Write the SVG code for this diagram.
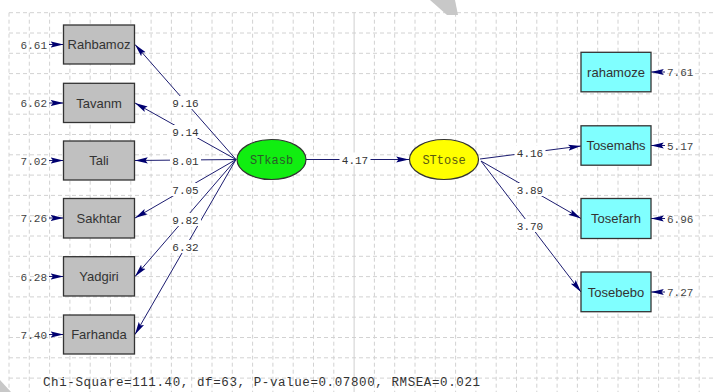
<svg xmlns="http://www.w3.org/2000/svg" width="713" height="392" viewBox="0 0 713 392">
<style>
.grid{fill:none;stroke:#d2d2d2;stroke-width:1;stroke-dasharray:4 3}
.obs rect{stroke:#333;stroke-width:1.3}
.gray rect{fill:#c0c0c0}
.cyan rect{fill:#80ffff}
.obs text{font-family:"Liberation Sans",Arial,sans-serif;font-size:13px;fill:#333;text-anchor:middle}
.lat text{font-family:"Liberation Mono","Courier New",monospace;font-size:12px;text-anchor:middle}
.val{font-family:"Liberation Mono","Courier New",monospace;font-size:11px;fill:#444}
.lbl{font-family:"Liberation Mono","Courier New",monospace;font-size:11px;fill:#333;text-anchor:middle}
.bg{fill:#fff}
.conn line{stroke:#1c1c70;stroke-width:1;marker-end:url(#ah)}
</style>
<defs>
<marker id="ah" markerUnits="userSpaceOnUse" markerWidth="14" markerHeight="8" refX="11" refY="3" orient="auto" viewBox="0 0 12 6">
<path d="M0,0.4 L11,3 L0,5.6 L2,3 z" fill="#000070"/>
</marker>
</defs>
<rect width="713" height="392" fill="#fff"/>
<g id="grid">
<path class="grid" d="M9,12.7V392M29.3,12.7V392M49.6,12.7V392M69.9,12.7V392M90.2,12.7V392M110.5,12.7V392M130.8,12.7V392M151.1,12.7V392M171.4,12.7V392M191.7,12.7V392M212,12.7V392M232.3,12.7V392M252.6,12.7V392M272.9,12.7V392M293.2,12.7V392M313.5,12.7V392M333.8,12.7V392M374.4,12.7V392M394.7,12.7V392M415,12.7V392M435.3,12.7V392M455.6,12.7V392M475.9,12.7V392M496.2,12.7V392M516.5,12.7V392M536.8,12.7V392M557.1,12.7V392M577.4,12.7V392M597.7,12.7V392M618,12.7V392M638.3,12.7V392M658.6,12.7V392M678.9,12.7V392M699.2,12.7V392"/>
<path class="grid" d="M9,12.7H713M9,33H713M9,53.3H713M9,73.6H713M9,93.9H713M9,114.2H713M9,134.5H713M9,154.8H713M9,175.1H713M9,195.4H713M9,215.7H713M9,236H713M9,256.3H713M9,276.6H713M9,296.9H713M9,317.2H713M9,337.5H713M9,357.8H713M9,378.1H713"/>
<line x1="354.1" y1="12.7" x2="354.1" y2="392" stroke="#cfcfcf" stroke-width="1"/>
</g>
<polygon points="430,0 455,0 458,15 447,15" fill="#c8c8c8"/>
<polygon points="0,380 11,392 0,392" fill="#c8c8c8"/>
<g id="connectors" class="conn">
<line x1="236" y1="159.5" x2="135" y2="44.5"/>
<line x1="236" y1="159.5" x2="135" y2="103"/>
<line x1="236" y1="159.5" x2="135" y2="160.5"/>
<line x1="236" y1="159.5" x2="135" y2="218"/>
<line x1="236" y1="159.5" x2="135" y2="276.5"/>
<line x1="236" y1="159.5" x2="135" y2="334.5"/>
<line x1="306" y1="159.5" x2="409" y2="159.5"/>
<line x1="480" y1="159" x2="581" y2="146"/>
<line x1="481" y1="161" x2="581" y2="218.5"/>
<line x1="481" y1="161" x2="581" y2="292"/>
<line x1="49" y1="44.5" x2="63.5" y2="44.5"/>
<line x1="49" y1="103" x2="63.5" y2="103"/>
<line x1="49" y1="160.5" x2="63.5" y2="160.5"/>
<line x1="49" y1="218" x2="63.5" y2="218"/>
<line x1="49" y1="276.5" x2="63.5" y2="276.5"/>
<line x1="49" y1="334.5" x2="63.5" y2="334.5"/>
<line x1="665" y1="72" x2="651" y2="72"/>
<line x1="665" y1="145.5" x2="651" y2="145.5"/>
<line x1="665" y1="218.5" x2="651" y2="218.5"/>
<line x1="665" y1="292" x2="651" y2="292"/>
<rect class="bg" x="170" y="96" width="31" height="13"/>
<rect class="bg" x="170" y="125" width="31" height="13"/>
<rect class="bg" x="170" y="154" width="31" height="13"/>
<rect class="bg" x="170" y="183" width="31" height="13"/>
<rect class="bg" x="170" y="213" width="31" height="13"/>
<rect class="bg" x="170" y="240" width="31" height="13"/>
<rect class="bg" x="339.5" y="152.5" width="31" height="13"/>
<rect class="bg" x="514.5" y="146" width="31" height="13"/>
<rect class="bg" x="514.5" y="183" width="31" height="13"/>
<rect class="bg" x="514.5" y="219" width="31" height="13"/>
<text class="lbl" x="185.5" y="107">9.16</text>
<text class="lbl" x="185.5" y="136">9.14</text>
<text class="lbl" x="185.5" y="165">8.01</text>
<text class="lbl" x="185.5" y="194">7.05</text>
<text class="lbl" x="185.5" y="224">9.82</text>
<text class="lbl" x="185.5" y="251">6.32</text>
<text class="lbl" x="355" y="163.5">4.17</text>
<text class="lbl" x="530" y="157">4.16</text>
<text class="lbl" x="530" y="194">3.89</text>
<text class="lbl" x="530" y="230">3.70</text>
</g>
<g id="err-values">
<text class="val" x="47" y="48.5" text-anchor="end">6.61</text>
<text class="val" x="47" y="107" text-anchor="end">6.62</text>
<text class="val" x="47" y="164.5" text-anchor="end">7.02</text>
<text class="val" x="47" y="222" text-anchor="end">7.26</text>
<text class="val" x="47" y="280.5" text-anchor="end">6.28</text>
<text class="val" x="47" y="338.5" text-anchor="end">7.40</text>
<text class="val" x="667" y="76">7.61</text>
<text class="val" x="667" y="149.5">5.17</text>
<text class="val" x="667" y="222.5">6.96</text>
<text class="val" x="667" y="296">7.27</text>
</g>
<g id="Rahbamoz" class="obs gray"><rect x="63.5" y="25" width="71" height="39"/><text x="99" y="49">Rahbamoz</text></g>
<g id="Tavanm" class="obs gray"><rect x="63.5" y="83.3" width="71" height="39.2"/><text x="99" y="107.5">Tavanm</text></g>
<g id="Tali" class="obs gray"><rect x="63.5" y="141" width="71" height="39"/><text x="99" y="165">Tali</text></g>
<g id="Sakhtar" class="obs gray"><rect x="63.5" y="198.5" width="71" height="39.5"/><text x="99" y="222.5">Sakhtar</text></g>
<g id="Yadgiri" class="obs gray"><rect x="63.5" y="256.7" width="71" height="39.3"/><text x="99" y="281">Yadgiri</text></g>
<g id="Farhanda" class="obs gray"><rect x="63.5" y="315" width="71" height="39"/><text x="99" y="339">Farhanda</text></g>
<g id="rahamoze" class="obs cyan"><rect x="581" y="52.3" width="70" height="39.5"/><text x="616" y="76.5">rahamoze</text></g>
<g id="Tosemahs" class="obs cyan"><rect x="581" y="125.8" width="70" height="39.4"/><text x="616" y="150">Tosemahs</text></g>
<g id="Tosefarh" class="obs cyan"><rect x="581" y="198.5" width="70" height="40"/><text x="616" y="223">Tosefarh</text></g>
<g id="Tosebebo" class="obs cyan"><rect x="581" y="272" width="70" height="39.7"/><text x="616" y="296.5">Tosebebo</text></g>
<g id="STkasb" class="lat"><ellipse cx="271.5" cy="159.5" rx="34.5" ry="20" fill="#11ee11" stroke="#333" stroke-width="1.2"/><text x="271.5" y="163.5" fill="#2a5a2a">STkasb</text></g>
<g id="STtose" class="lat"><ellipse cx="444" cy="159.5" rx="34.5" ry="20" fill="#ffff00" stroke="#333" stroke-width="1.2"/><text x="444" y="163.5" fill="#5a5a10">STtose</text></g>
<text x="43" y="386" font-family="Liberation Mono,'Courier New',monospace" font-size="12.5" fill="#333" textLength="437" lengthAdjust="spacing">Chi-Square=111.40, df=63, P-value=0.07800, RMSEA=0.021</text>
</svg>
